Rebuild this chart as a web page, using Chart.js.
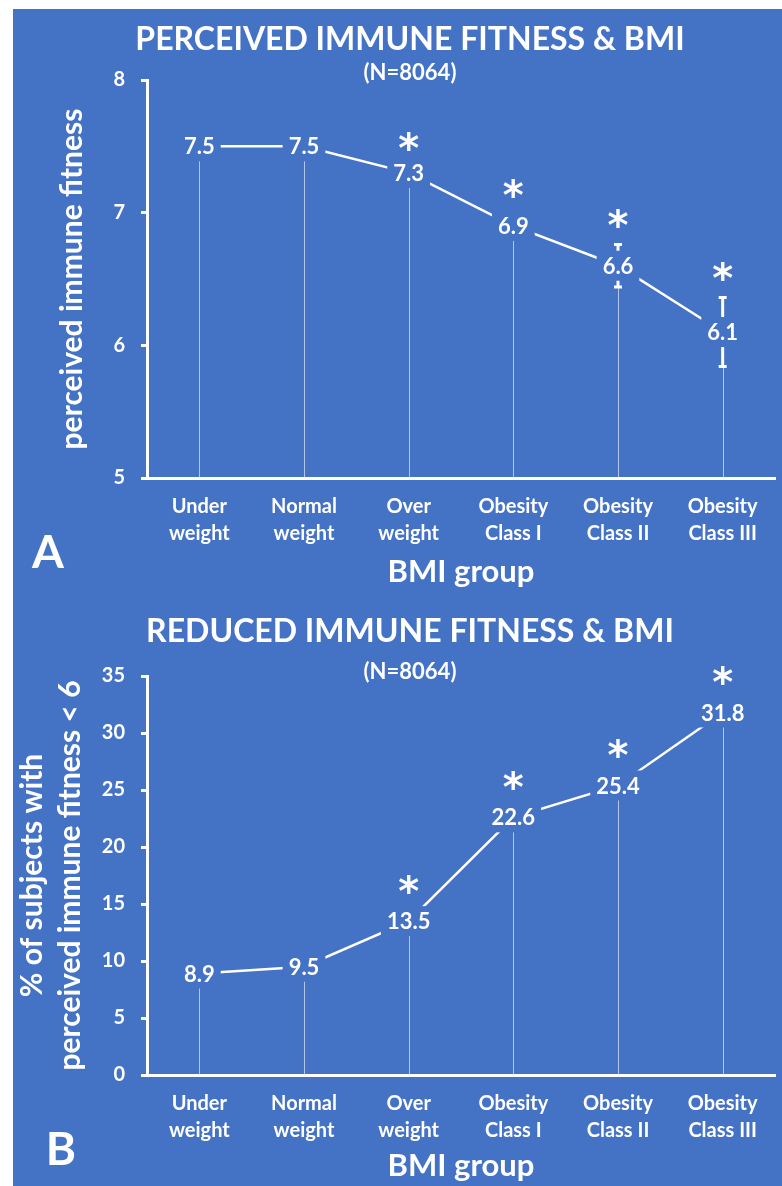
<!DOCTYPE html>
<html>
<head>
<meta charset="utf-8">
<script src="https://cdn.jsdelivr.net/npm/chart.js@4.4.0/dist/chart.umd.min.js"></script>
<style>
    body { margin: 0; background: #ffffff; }
    #panel { position: absolute; left: 13px; top: 9px; width: 769px; height: 1177px; background: #4472c4; }
    canvas { display: block; }
</style>
</head>
<body>
<div id="panel">
    <canvas id="chartA" width="769" height="588"></canvas>
    <canvas id="chartB" width="769" height="588"></canvas>
</div>
<script>
const BLUE = '#4472c4';
const FONT = 'Lato';

// Data
const bmiGroups = [['Under', 'weight'], ['Normal', 'weight'], ['Over', 'weight'],
                   ['Obesity', 'Class I'], ['Obesity', 'Class II'], ['Obesity', 'Class III']];

const fitnessMean = [7.5, 7.5, 7.3, 6.9, 6.6, 6.1];
const fitnessErr = [0.08, 0.03, 0.04, 0.08, 0.16, 0.26];
const fitnessSig = [false, false, true, true, true, true];
const fitnessTicks = [5, 6, 7, 8];

const reducedPct = [8.9, 9.5, 13.5, 22.6, 25.4, 31.8];
const reducedSig = [false, false, true, true, true, true];
const reducedTicks = [0, 5, 10, 15, 20, 25, 30, 35];

Chart.defaults.font.family = FONT;
Chart.defaults.font.weight = 'bold';
Chart.defaults.color = '#ffffff';

// Overlay plugin: drop lines, error bars, value labels, asterisks, titles
function makeOverlay(cfg) {
    return {
        id: 'overlay',
        beforeDatasetsDraw(chart) {
            const ctx = chart.ctx;
            const meta = chart.getDatasetMeta(0);
            const bottom = chart.chartArea.bottom;
            ctx.save();
            ctx.strokeStyle = 'rgba(255,255,255,0.6)';
            ctx.lineWidth = 1;
            meta.data.forEach(pt => {
                const x = Math.round(pt.x) + 0.5;
                ctx.beginPath();
                ctx.moveTo(x, pt.y);
                ctx.lineTo(x, bottom - 1);
                ctx.stroke();
            });
            ctx.restore();
        },
        afterDatasetsDraw(chart) {
            const ctx = chart.ctx;
            const yScale = chart.scales.y;
            const meta = chart.getDatasetMeta(0);
            const values = chart.data.datasets[0].data;
            ctx.save();

            // Error bars
            if (cfg.errors) {
                ctx.strokeStyle = '#ffffff';
                ctx.lineWidth = 3;
                meta.data.forEach((pt, i) => {
                    const top = yScale.getPixelForValue(values[i] + cfg.errors[i]);
                    const bot = yScale.getPixelForValue(values[i] - cfg.errors[i]);
                    ctx.beginPath();
                    ctx.moveTo(pt.x, top);
                    ctx.lineTo(pt.x, bot);
                    ctx.moveTo(pt.x - 4, top);
                    ctx.lineTo(pt.x + 4, top);
                    ctx.moveTo(pt.x - 4, bot);
                    ctx.lineTo(pt.x + 4, bot);
                    ctx.stroke();
                });
            }

            // Value labels with background box
            ctx.font = 'bold 22px ' + FONT;
            ctx.textAlign = 'center';
            ctx.textBaseline = 'middle';
            meta.data.forEach((pt, i) => {
                const txt = values[i].toFixed(1);
                const w = ctx.measureText(txt).width + 12;
                ctx.fillStyle = BLUE;
                ctx.fillRect(pt.x - w / 2, pt.y - 15, w, 30);
                ctx.fillStyle = '#ffffff';
                ctx.fillText(txt, pt.x, pt.y + 1);
            });

            // Significance asterisks
            ctx.font = 'bold 40px "DejaVu Sans"';
            ctx.textBaseline = 'alphabetic';
            const m = ctx.measureText('*');
            const shift = (m.actualBoundingBoxAscent - m.actualBoundingBoxDescent) / 2;
            meta.data.forEach((pt, i) => {
                if (!cfg.sig[i]) return;
                let y;
                if (cfg.errors) {
                    y = yScale.getPixelForValue(values[i] + cfg.errors[i]) - cfg.starOffset;
                } else {
                    y = pt.y - cfg.starOffset;
                }
                ctx.fillText('*', pt.x, y + shift);
            });
            ctx.restore();
        },
        afterDraw(chart) {
            const ctx = chart.ctx;
            const cx = 397;
            ctx.save();
            ctx.fillStyle = '#ffffff';
            ctx.textAlign = 'center';
            ctx.textBaseline = 'middle';
            ctx.font = 'bold 32px ' + FONT;
            ctx.fillText(cfg.title, cx, cfg.titleY);
            ctx.font = 'bold 22px ' + FONT;
            ctx.fillText('(N=8064)', cx, cfg.subY);
            ctx.font = 'bold 46px ' + FONT;
            ctx.fillText(cfg.letter, cfg.letterX, cfg.letterY);
            ctx.restore();
        }
    };
}

function buildChart(id, values, ticks, yTitle, yTitleOpts, xTitlePad, topPad, xHeight, overlay) {
    const ctx = document.getElementById(id).getContext('2d');
    return new Chart(ctx, {
        type: 'line',
        data: {
            labels: bmiGroups,
            datasets: [{
                data: values,
                borderColor: '#ffffff',
                borderWidth: 2.5,
                pointRadius: 0,
                tension: 0
            }]
        },
        options: {
            responsive: false,
            animation: false,
            layout: { padding: { top: topPad, right: 7, left: 0, bottom: 0 } },
            plugins: {
                legend: { display: false },
                tooltip: { enabled: false }
            },
            scales: {
                x: {
                    offset: true,
                    grid: { display: false, drawTicks: false },
                    border: { display: true, color: '#ffffff', width: 3 },
                    ticks: {
                        color: '#ffffff',
                        padding: 15,
                        maxRotation: 0,
                        autoSkip: false,
                        font: { size: 20, weight: 'bold', lineHeight: 1.35 }
                    },
                    title: {
                        display: true,
                        text: 'BMI group',
                        color: '#ffffff',
                        font: { size: 31, weight: 'bold', lineHeight: 1.2 },
                        padding: { top: 0, bottom: xTitlePad }
                    },
                    afterFit: s => { s.height = xHeight; }
                },
                y: {
                    min: ticks[0],
                    max: ticks[ticks.length - 1],
                    ticks: {
                        stepSize: ticks[1] - ticks[0],
                        color: '#ffffff',
                        padding: 16,
                        font: { size: 20, weight: 'bold' }
                    },
                    grid: {
                        display: true,
                        drawOnChartArea: false,
                        drawTicks: true,
                        tickLength: 6,
                        color: '#ffffff',
                        lineWidth: 3
                    },
                    border: { display: true, color: '#ffffff', width: 3 },
                    title: {
                        display: true,
                        text: yTitle,
                        color: '#ffffff',
                        font: { size: 30, weight: 'bold', lineHeight: yTitleOpts.lineHeight },
                        padding: { top: yTitleOpts.pad, bottom: 0 }
                    },
                    afterFit: s => { s.width = 134; }
                }
            }
        },
        plugins: [overlay]
    });
}

buildChart('chartA', fitnessMean, fitnessTicks, 'perceived immune fitness',
    { lineHeight: 1.2, pad: 41 }, 6, 71, 119,
    makeOverlay({
        title: 'PERCEIVED IMMUNE FITNESS & BMI', titleY: 31, subY: 64,
        letter: 'A', letterX: 35, letterY: 544,
        errors: fitnessErr, sig: fitnessSig, starOffset: 27
    }));

buildChart('chartB', reducedPct, reducedTicks, ['% of subjects with', 'perceived immune fitness < 6'],
    { lineHeight: 38 / 30, pad: 0 }, 0, 79, 110,
    makeOverlay({
        title: 'REDUCED IMMUNE FITNESS & BMI', titleY: 35, subY: 75,
        letter: 'B', letterX: 48, letterY: 553,
        errors: null, sig: reducedSig, starOffset: 37
    }));
</script>
</body>
</html>
